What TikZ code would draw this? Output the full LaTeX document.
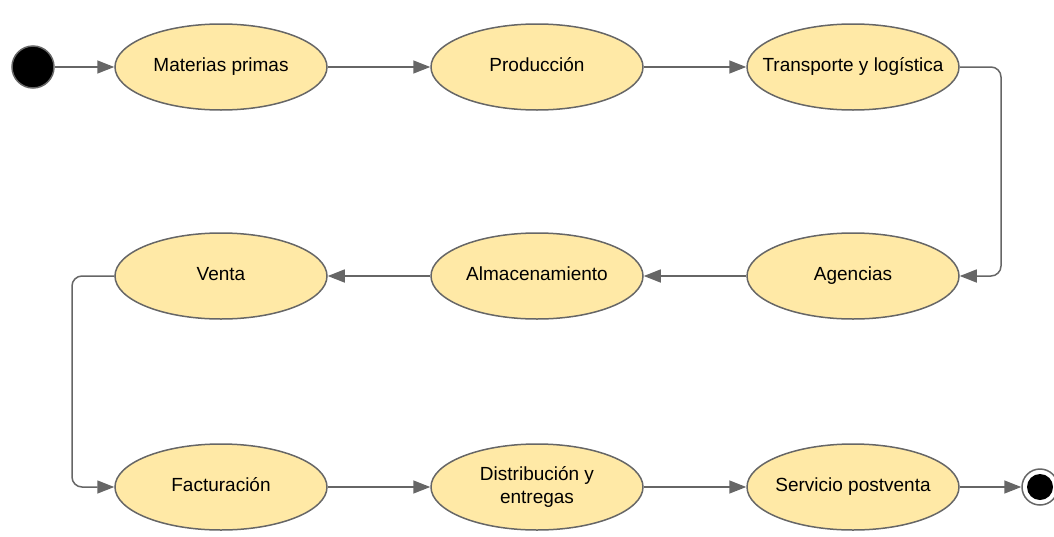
\documentclass[tikz,border=0pt]{standalone}
\usepackage{fontspec}
\setmainfont{Liberation Sans}
\usetikzlibrary{arrows.meta,shapes.geometric}
\definecolor{etapafill}{HTML}{FFE9A6}
\definecolor{trazo}{HTML}{666666}
% label of fixed zero width, so that every ellipse keeps the same size
\newcommand{\rotulo}[1]{\makebox[0pt]{\begin{tabular}{@{}c@{}}#1\end{tabular}}}
\tikzset{
  etapa/.style={ellipse, draw=trazo, line width=1.5pt, fill=etapafill,
    minimum width=212pt, minimum height=86pt, inner sep=0pt,
    font=\fontsize{19}{23}\selectfont},
  flujo/.style={draw=trazo, line width=1.5pt, -{Triangle[length=17pt,width=13pt]}, rounded corners=10pt}
}
\begin{document}
\begin{tikzpicture}[x=1pt,y=-1pt]
        \useasboundingbox (0,0) rectangle (1054,536);
        % Start and end
        \node[circle, draw=trazo, line width=1.5pt, fill=black, minimum size=42pt, inner sep=0pt] (inicio) at (33,67) {};
        \node[circle, draw=trazo, line width=1.5pt, fill=white, minimum size=36pt, inner sep=0pt] (fin) at (1040,487) {};
        \fill[black] (fin.center) circle (13pt);
        % Stages
        \node[etapa] (materias) at (221,67) {\rotulo{Materias primas}};
        \node[etapa] (produccion) at (537,67) {\rotulo{Producción}};
        \node[etapa] (transporte) at (853,67) {\rotulo{Transporte y logística}};
        \node[etapa] (venta) at (221,276) {\rotulo{Venta}};
        \node[etapa] (almacen) at (537,276) {\rotulo{Almacenamiento}};
        \node[etapa] (agencias) at (853,276) {\rotulo{Agencias}};
        \node[etapa] (facturacion) at (221,487) {\rotulo{Facturación}};
        \node[etapa] (distribucion) at (537,487) {\rotulo{Distribución y\\entregas}};
        \node[etapa] (servicio) at (853,487) {\rotulo{Servicio postventa}};
        % Flow
        \draw[flujo] (inicio) -- (materias);
        \draw[flujo] (materias) -- (produccion);
        \draw[flujo] (produccion) -- (transporte);
        \draw[flujo] (transporte.east) -- (1001,67) -- (1001,276) -- (agencias.east);
        \draw[flujo] (agencias) -- (almacen);
        \draw[flujo] (almacen) -- (venta);
        \draw[flujo] (venta.west) -- (72,276) -- (72,487) -- (facturacion.west);
        \draw[flujo] (facturacion) -- (distribucion);
        \draw[flujo] (distribucion) -- (servicio);
        \draw[flujo] (servicio) -- (fin);
      \end{tikzpicture}
\end{document}
